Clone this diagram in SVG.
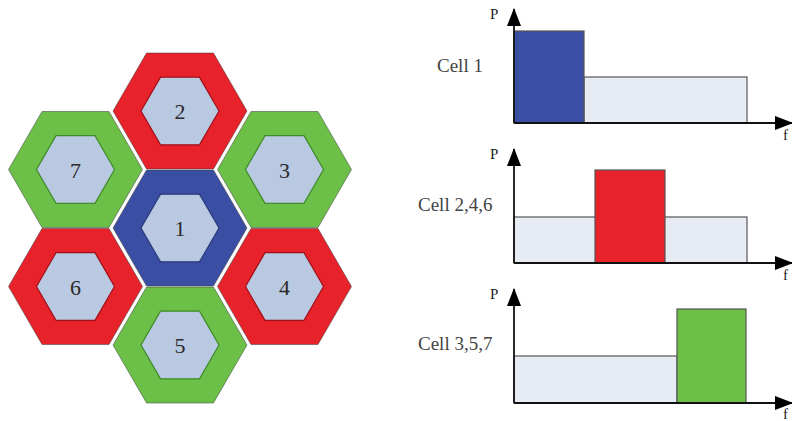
<svg xmlns="http://www.w3.org/2000/svg" xmlns:xlink="http://www.w3.org/1999/xlink" width="792" height="421" viewBox="0 0 792 421">
<style>
.outer{stroke:#3a3a3a;stroke-width:1;stroke-opacity:0.5}
.red{fill:#e8222a}
.green{fill:#6cbf47}
.blue{fill:#3a4ea3}
.inner{fill:#b9c9e1;stroke-width:1.2}
.num{font-family:"Liberation Serif","Times New Roman",serif;font-size:22px;fill:#2a2a2a;text-anchor:middle}
.lbl{font-family:"Liberation Serif","Times New Roman",serif;font-size:19px;fill:#444}
.ax{font-family:"Liberation Serif","Times New Roman",serif;font-size:15px;fill:#222}
.axis{stroke:#111;stroke-width:1.8;fill:none}
.bar{stroke:#555;stroke-width:1.2}
.light{fill:#e6ebf4}
</style>
<defs>
<polygon id="hexO" points="67,0 33.5,58 -33.5,58 -67,0 -33.5,-58 33.5,-58"/>
<polygon id="hexI" points="39,0 19.5,33.8 -19.5,33.8 -39,0 -19.5,-33.8 19.5,-33.8"/>
<marker id="arr" markerUnits="userSpaceOnUse" markerWidth="18" markerHeight="14" refX="17" refY="7" orient="auto" overflow="visible">
<path d="M0,0 L18,7 L0,14 z" fill="#000"/>
</marker>
</defs>
<rect width="792" height="421" fill="#fff"/>
<g id="cell1" transform="translate(180,228)">
<use xlink:href="#hexO" class="outer blue"/>
<use xlink:href="#hexI" class="inner" stroke="#2a3a80"/>
<text class="num" x="0" y="8">1</text>
</g>
<g id="cell2" transform="translate(180,111)">
<use xlink:href="#hexO" class="outer red"/>
<use xlink:href="#hexI" class="inner" stroke="#a01018"/>
<text class="num" x="0" y="8">2</text>
</g>
<g id="cell3" transform="translate(284.5,169.5)">
<use xlink:href="#hexO" class="outer green"/>
<use xlink:href="#hexI" class="inner" stroke="#3f8a2a"/>
<text class="num" x="0" y="8">3</text>
</g>
<g id="cell4" transform="translate(284.5,286.5)">
<use xlink:href="#hexO" class="outer red"/>
<use xlink:href="#hexI" class="inner" stroke="#a01018"/>
<text class="num" x="0" y="8">4</text>
</g>
<g id="cell5" transform="translate(180,345)">
<use xlink:href="#hexO" class="outer green"/>
<use xlink:href="#hexI" class="inner" stroke="#3f8a2a"/>
<text class="num" x="0" y="8">5</text>
</g>
<g id="cell6" transform="translate(75.5,286.5)">
<use xlink:href="#hexO" class="outer red"/>
<use xlink:href="#hexI" class="inner" stroke="#a01018"/>
<text class="num" x="0" y="8">6</text>
</g>
<g id="cell7" transform="translate(75.5,169.5)">
<use xlink:href="#hexO" class="outer green"/>
<use xlink:href="#hexI" class="inner" stroke="#3f8a2a"/>
<text class="num" x="0" y="8">7</text>
</g>
<g id="chart1">
<rect class="bar light" x="584" y="77" width="163" height="46"/>
<rect class="bar blue" x="514" y="31" width="70" height="92"/>
<text class="lbl" x="437" y="72">Cell 1</text>
<text class="ax" x="490" y="19">P</text>
<text class="ax" x="783" y="140">f</text>
</g>
<g id="chart2">
<rect class="bar light" x="514" y="217" width="233" height="46"/>
<rect class="bar red" x="595" y="170" width="70" height="93"/>
<text class="lbl" x="418" y="211">Cell 2,4,6</text>
<text class="ax" x="490" y="159">P</text>
<text class="ax" x="783" y="280">f</text>
</g>
<g id="chart3">
<rect class="bar light" x="514" y="356" width="163" height="47"/>
<rect class="bar green" x="677" y="309" width="69" height="94"/>
<text class="lbl" x="418" y="350">Cell 3,5,7</text>
<text class="ax" x="490" y="299">P</text>
<text class="ax" x="783" y="419">f</text>
</g>
<g id="connectors">
<path class="axis" d="M514,123 V9" marker-end="url(#arr)"/>
<path class="axis" d="M514,123 H792" marker-end="url(#arr)"/>
<path class="axis" d="M514,263 V149" marker-end="url(#arr)"/>
<path class="axis" d="M514,263 H792" marker-end="url(#arr)"/>
<path class="axis" d="M514,403 V289" marker-end="url(#arr)"/>
<path class="axis" d="M514,403 H792" marker-end="url(#arr)"/>
</g>
</svg>
